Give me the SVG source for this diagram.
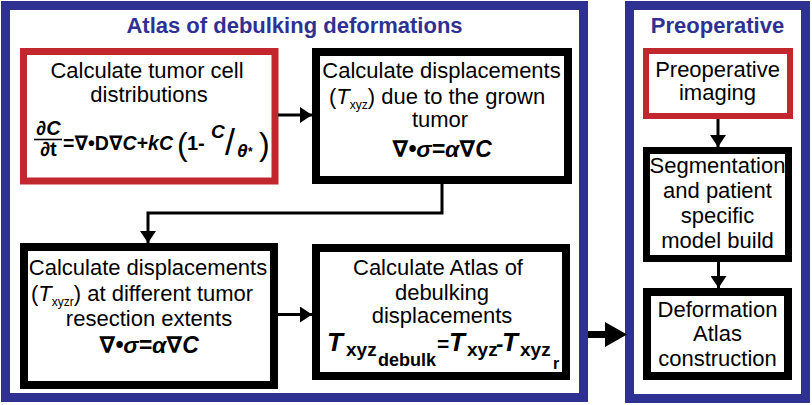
<svg xmlns="http://www.w3.org/2000/svg" width="812" height="405" viewBox="0 0 812 405">
<defs>
<style>
.frame{fill:#fff;stroke:#2E3192;stroke-width:9}
.red{fill:#fff;stroke:#C1272D}
.blk{fill:#fff;stroke:#000}
.t{font-family:"Liberation Sans",Arial,sans-serif;font-size:22px;fill:#000;text-anchor:middle}
.ts{font-family:"Liberation Sans",Arial,sans-serif;font-size:22px;fill:#000}
.hd{font-family:"Liberation Sans",Arial,sans-serif;font-size:22px;font-weight:bold;fill:#2E3192;text-anchor:middle}
.eq{font-family:"Liberation Sans","DejaVu Sans",sans-serif;font-weight:bold;fill:#000}
.it{font-style:italic}
.par{font-family:"Liberation Sans",Arial,sans-serif;fill:#000}
.conn{fill:none;stroke:#000;stroke-width:3}
</style>
<marker id="ah" markerUnits="userSpaceOnUse" markerWidth="12" markerHeight="16" refX="12" refY="8" orient="auto">
<path d="M0,0 L12,8 L0,16 z" fill="#000"/>
</marker>
</defs>

<g id="atlas-frame">
<rect class="frame" x="5.5" y="5.5" width="578" height="392"/>
<text class="hd" x="294.5" y="33">Atlas of debulking deformations</text>
</g>
<g id="preop-frame">
<rect class="frame" x="629.5" y="5.5" width="176" height="393"/>
<text class="hd" x="717.5" y="33">Preoperative</text>
</g>

<g id="tumor-cell">
<rect class="red" x="23.5" y="51.5" width="251.5" height="129.5" stroke-width="7"/>
<text class="t" x="147" y="78">Calculate tumor cell</text>
<text class="t" x="149" y="102">distributions</text>
<text class="eq" font-size="20" x="48.5" y="135" text-anchor="middle">∂<tspan class="it">C</tspan></text>
<line x1="34" y1="139.5" x2="62" y2="139.5" stroke="#000" stroke-width="1.6"/>
<text class="eq" font-size="20" x="48.5" y="156" text-anchor="middle">∂t</text>
<text class="eq" font-size="20" x="63" y="150" textLength="110" lengthAdjust="spacingAndGlyphs">=∇•D∇<tspan class="it">C</tspan>+<tspan class="it">kC</tspan></text>
<text class="par" font-size="32" x="177" y="155">(</text>
<text class="eq" font-size="20" x="187" y="150">1-</text>
<text class="eq it" font-size="19" x="211" y="138">C</text>
<text class="par" font-size="36" x="225" y="155">/</text>
<text class="eq it" font-size="19" x="237" y="157">θ<tspan font-size="12" dy="-1">*</tspan></text>
<text class="par" font-size="32" x="259" y="155">)</text>
</g>

<g id="grown-tumor">
<rect class="blk" x="316" y="52" width="252" height="128" stroke-width="8"/>
<text class="t" x="441.5" y="78" font-size="21">Calculate displacements</text>
<text class="ts" x="329" y="104">(<tspan class="it">T</tspan><tspan font-size="12" dy="5">xyz</tspan><tspan dy="-5">) due to the grown</tspan></text>
<text class="t" x="440" y="127">tumor</text>
<text class="eq it" font-size="23" x="442" y="157" text-anchor="middle">∇•σ=α∇C</text>
</g>

<g id="resection">
<rect class="blk" x="24" y="247" width="250" height="138" stroke-width="8"/>
<text class="t" x="148" y="275">Calculate displacements</text>
<text class="ts" x="31" y="301">(<tspan class="it">T</tspan><tspan font-size="12" dy="5">xyzr</tspan><tspan dy="-5">) at different tumor</tspan></text>
<text class="t" x="149" y="326">resection extents</text>
<text class="eq it" font-size="23" x="149" y="353" text-anchor="middle">∇•σ=α∇C</text>
</g>

<g id="atlas-calc">
<rect class="blk" x="316" y="248" width="250" height="128" stroke-width="8"/>
<text class="t" x="438" y="275">Calculate Atlas of</text>
<text class="t" x="442" y="300">debulking</text>
<text class="t" x="442" y="323">displacements</text>
<text class="eq">
<tspan class="it" font-size="26" x="327" y="351">T</tspan>
<tspan font-size="19" x="346" y="356">xyz</tspan>
<tspan font-size="18" x="378" y="366">debulk</tspan>
<tspan font-size="21" x="437" y="351">=</tspan>
<tspan class="it" font-size="26" x="449" y="351">T</tspan>
<tspan font-size="19" x="467" y="356">xyz</tspan>
<tspan font-size="22" x="496" y="351">-</tspan>
<tspan class="it" font-size="26" x="502" y="351">T</tspan>
<tspan font-size="19" x="520" y="356">xyz</tspan>
<tspan font-size="16" x="553" y="369">r</tspan>
</text>
</g>

<g id="preop-imaging">
<rect class="red" x="646" y="51" width="144" height="65" stroke-width="6"/>
<text class="t" x="717.5" y="77">Preoperative</text>
<text class="t" x="717.5" y="100">imaging</text>
</g>

<g id="segmentation">
<rect class="blk" x="646.5" y="150.5" width="142" height="108" stroke-width="7"/>
<text class="t" x="717.5" y="173">Segmentation</text>
<text class="t" x="717.5" y="198">and patient</text>
<text class="t" x="717.5" y="223">specific</text>
<text class="t" x="717.5" y="248">model build</text>
</g>

<g id="deformation-atlas">
<rect class="blk" x="647" y="292" width="141" height="84" stroke-width="8"/>
<text class="t" x="717.5" y="317">Deformation</text>
<text class="t" x="717.5" y="341">Atlas</text>
<text class="t" x="717.5" y="366">construction</text>
</g>

<g id="connectors">
<line class="conn" x1="278" y1="115" x2="312" y2="115" marker-end="url(#ah)"/>
<polyline class="conn" points="442,184 442,213 148,213 148,243" marker-end="url(#ah)"/>
<line class="conn" x1="278" y1="314.5" x2="312" y2="314.5" marker-end="url(#ah)"/>
<line class="conn" x1="718" y1="119" x2="718" y2="147" marker-end="url(#ah)"/>
<line class="conn" x1="718.5" y1="262" x2="718.5" y2="288" marker-end="url(#ah)"/>
<line x1="588" y1="334.5" x2="606" y2="334.5" stroke="#000" stroke-width="7"/>
<polygon points="605,322 627,334.5 605,347" fill="#000"/>
</g>
</svg>
